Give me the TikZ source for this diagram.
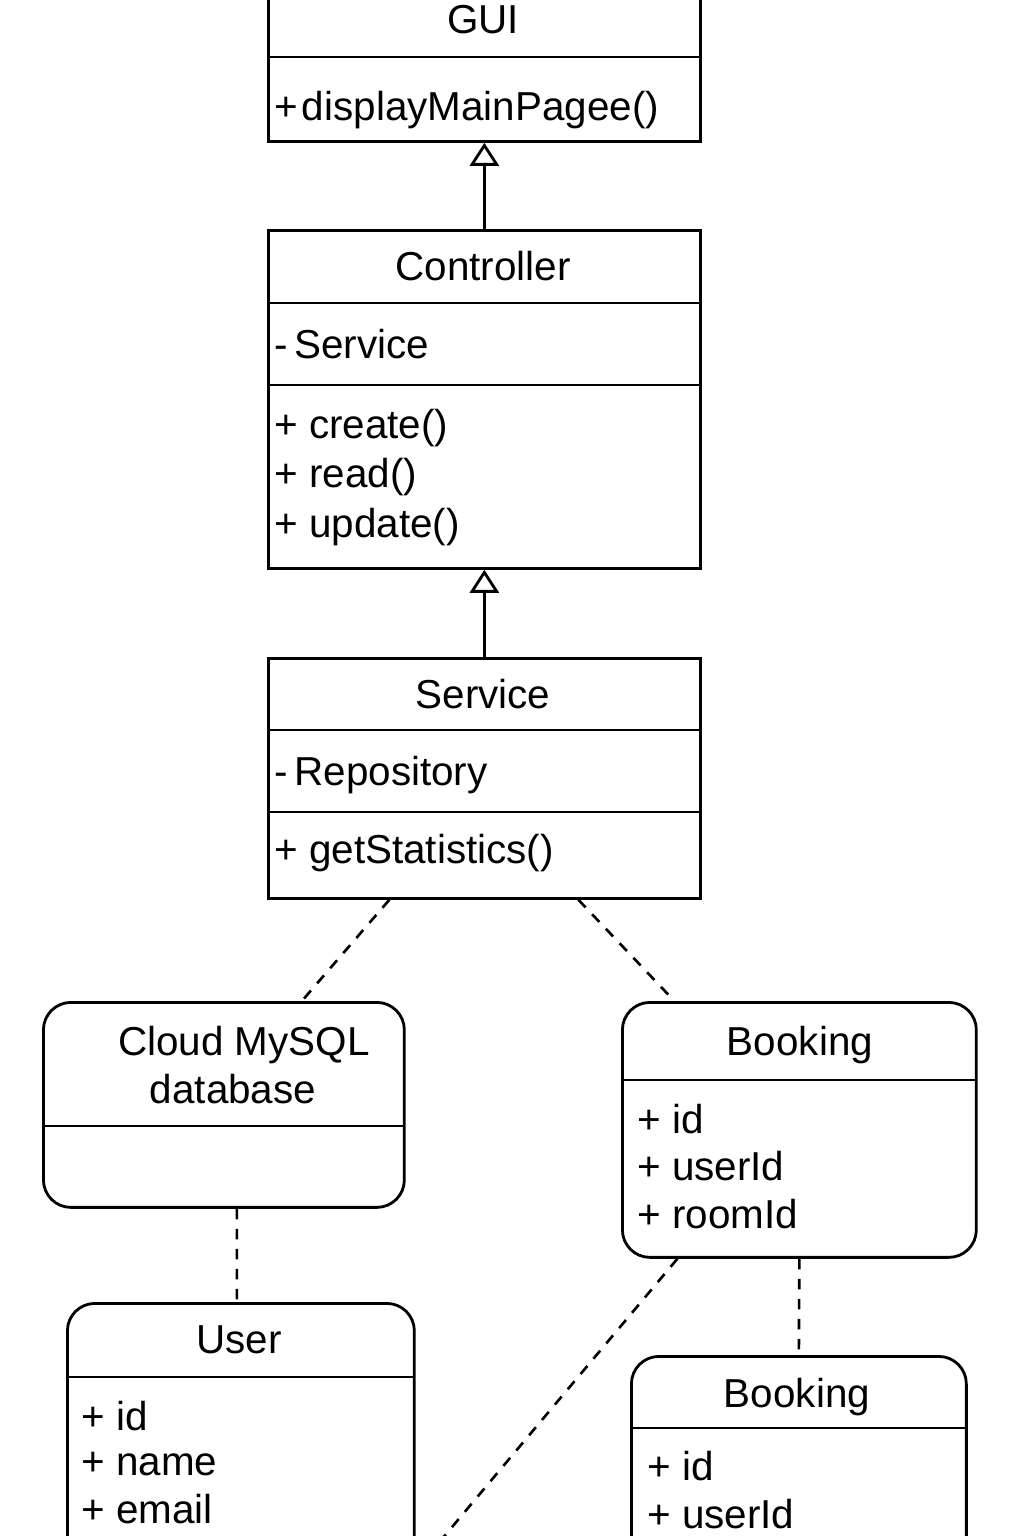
\documentclass[tikz,border=0pt]{standalone}
\usepackage{fontspec}
\setmainfont{Liberation Sans}
\usetikzlibrary{arrows.meta,calc}
\tikzset{
  classbox/.style={draw=black, line width=1.6pt, anchor=north west},
  entitybox/.style={classbox, rounded corners=0.55cm},
  divider/.style={black, line width=1.4pt},
  title/.style={anchor=base},
  member/.style={anchor=base west},
  inherit/.style={black, line width=1.6pt, -{Triangle[open,length=0.46cm,width=0.58cm]}},
  depend/.style={black, line width=1.5pt, dash pattern=on 0.21cm off 0.19cm}
}
\begin{document}
\begin{tikzpicture}[x=0.02cm, y=0.02cm]
\tikzstyle{every node}+=[inner sep=0pt, font=\fontsize{23}{28}\selectfont]
\useasboundingbox (0,0) rectangle (1024,-1536);
\clip (0,0) rectangle (1024,-1536);
\node [classbox, minimum width=8.64cm, minimum height=3cm] (gui) at (267,10) {};
\draw [divider] (267,-57) -- (699,-57);
\node [title] (guititle) at (483,-33) {GUI};
\node [member] (guiop) at (274,-120) {+\kern0.1em displayMainPagee()};
\node [classbox, minimum width=8.64cm, minimum height=6.76cm] (ctrl) at (267,-229) {};
\draw [divider] (267,-303) -- (699,-303);
\draw [divider] (267,-385) -- (699,-385);
\node [title] (ctrltitle) at (483,-280) {Controller};
\node [member] (ctrlattr) at (274,-358) {-\,Service};
\node [member] (ctrlopa) at (274,-438) {+ create()};
\node [member] (ctrlopb) at (274,-487) {+ read()};
\node [member] (ctrlopc) at (274,-537) {+ update()};
\node [classbox, minimum width=8.64cm, minimum height=4.8cm] (svc) at (267,-657) {};
\draw [divider] (267,-730) -- (699,-730);
\draw [divider] (267,-812) -- (699,-812);
\node [title] (svctitle) at (483,-708) {Service};
\node [member] (svcattr) at (274,-785) {-\,Repository};
\node [member] (svcop) at (274,-863) {+ getStatistics()};
\node [entitybox, minimum width=7.22cm, minimum height=4.1cm] (db) at (42,-1001) {};
\draw [divider] (42,-1126) -- (403,-1126);
\node [title] (dbtitlea) at (244,-1055) {Cloud MySQL};
\node [title] (dbtitleb) at (233,-1103) {database};
\node [entitybox, minimum width=7.08cm, minimum height=5.1cm] (booking) at (621,-1001) {};
\draw [divider] (621,-1080) -- (975,-1080);
\node [title] (bookingtitle) at (800,-1055) {Booking};
\node [member] (bookinga) at (637,-1133) {+ id};
\node [member] (bookingb) at (637,-1180) {+ userId};
\node [member] (bookingc) at (637,-1228) {+ roomId};
\node [entitybox, minimum width=6.94cm, minimum height=6cm] (user) at (66,-1302) {};
\draw [divider] (66,-1377) -- (413,-1377);
\node [title] (usertitle) at (239,-1353) {User};
\node [member] (usera) at (81,-1430) {+ id};
\node [member] (userb) at (81,-1475) {+ name};
\node [member] (userc) at (81,-1523) {+ email};
\node [entitybox, minimum width=6.7cm, minimum height=5.2cm] (booking2) at (630,-1355) {};
\draw [divider] (630,-1428) -- (965,-1428);
\node [title] (booking2title) at (797,-1407) {Booking};
\node [member] (booking2a) at (647,-1480) {+ id};
\node [member] (booking2b) at (647,-1528) {+ userId};
\coordinate (offpage) at (426,-1558);
\draw [inherit] (ctrl.north) -- (gui.south);
\draw [inherit] (svc.north) -- (ctrl.south);
\draw [depend] ($(svc.south)+(-95,0)$) -- ($(db.north)+(78,0)$);
\draw [depend] ($(svc.south)+(94,0)$) -- ($(booking.north)+(-125,0)$);
\draw [depend] ($(db.south)+(13,0)$) -- ($(user.north)+(-4,0)$);
\draw [depend] (booking.south) -- (booking2.north);
\draw [depend] ($(booking.south)+(-122,0)$) -- (offpage);
\end{tikzpicture}
\end{document}
